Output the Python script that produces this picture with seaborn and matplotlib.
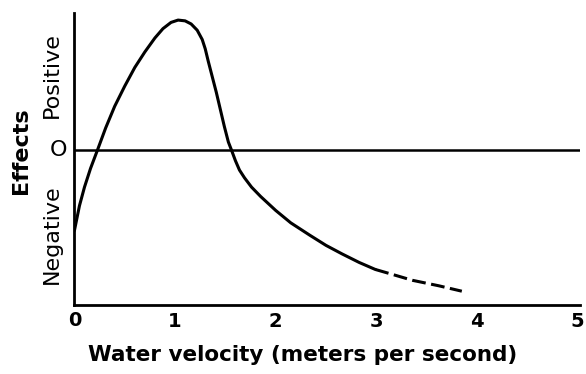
import seaborn as sns
import matplotlib.pyplot as plt
import pandas as pd

# --- data (velocity in m/s, effect in relative units) ---
velocity_solid = [0.0, 0.05, 0.1, 0.16, 0.23, 0.31, 0.4, 0.5, 0.6, 0.7, 0.8, 0.88,
                  0.96, 1.03, 1.1, 1.16, 1.22, 1.27, 1.3, 1.33, 1.37, 1.41, 1.45,
                  1.49, 1.53, 1.56, 1.6, 1.64, 1.69, 1.76, 1.85, 2.0, 2.15, 2.34,
                  2.5, 2.66, 2.83, 2.99]
effect_solid = [-0.52, -0.36, -0.24, -0.12, 0.0, 0.14, 0.28, 0.41, 0.53, 0.63, 0.72,
                0.78, 0.82, 0.835, 0.83, 0.81, 0.77, 0.71, 0.65, 0.57, 0.47, 0.37,
                0.26, 0.15, 0.05, 0.0, -0.07, -0.13, -0.18, -0.24, -0.3, -0.39,
                -0.47, -0.55, -0.615, -0.67, -0.725, -0.77]
velocity_dashed = [2.99, 3.15, 3.36, 3.62, 3.85]
effect_dashed = [-0.77, -0.8, -0.84, -0.875, -0.91]

x_ticks = [1, 2, 3, 4, 5]
x_tick_labels = ['1', '2', '3', '4', '5']
side_labels = ['Positive', 'Negative']
side_label_y = [0.48, -0.54]

solid = pd.DataFrame({'velocity': velocity_solid, 'effect': effect_solid})
dashed = pd.DataFrame({'velocity': velocity_dashed, 'effect': effect_dashed})

sns.set_style('white')
plt.rcParams['font.family'] = ['DejaVu Sans']
plt.rcParams['text.color'] = 'black'
plt.rcParams['axes.labelcolor'] = 'black'
plt.rcParams['xtick.color'] = 'black'
plt.rcParams['ytick.color'] = 'black'

fig = plt.figure(figsize=(5.86, 3.74), dpi=100)
ax = fig.add_axes([0.127, 0.184, 0.862, 0.781])

sns.lineplot(data=solid, x='velocity', y='effect', color='black', lw=2.2,
             sort=False, ax=ax)
sns.lineplot(data=dashed, x='velocity', y='effect', color='black', lw=2.2,
             sort=False, ax=ax)
ax.lines[-1].set_dashes([4.5, 1.8])
ax.axhline(0, color='black', lw=1.8)

ax.set_xlim(0, 5.02)
ax.set_ylim(-1, 0.88)

for side in ['top', 'right']:
    ax.spines[side].set_visible(False)
for side in ['left', 'bottom']:
    ax.spines[side].set_linewidth(2)
    ax.spines[side].set_color('black')

ax.set_xticks(x_ticks)
ax.set_xticklabels(x_tick_labels, fontsize=14, fontweight='bold')
ax.tick_params(axis='x', direction='in', length=8, width=1.6, pad=5)
ax.text(0, -1.04, '0', ha='center', va='top', fontsize=14, fontweight='bold')

ax.set_yticks([0])
ax.set_yticklabels(['O'], fontsize=16, va='center')
ax.tick_params(axis='y', length=0, pad=5)

trans = ax.get_yaxis_transform()
for txt, yv in zip(side_labels, side_label_y):
    ax.text(-0.044, yv, txt, transform=trans, rotation=90, ha='center',
            va='center', fontsize=16)

ax.set_xlabel('Water velocity (meters per second)', fontsize=15.5, fontweight='bold')
ax.xaxis.set_label_coords(0.452, -0.135)
ax.set_ylabel('Effects', fontsize=16, fontweight='bold')
ax.yaxis.set_label_coords(-0.086, 0.53)

plt.savefig('out.png', dpi=100)
